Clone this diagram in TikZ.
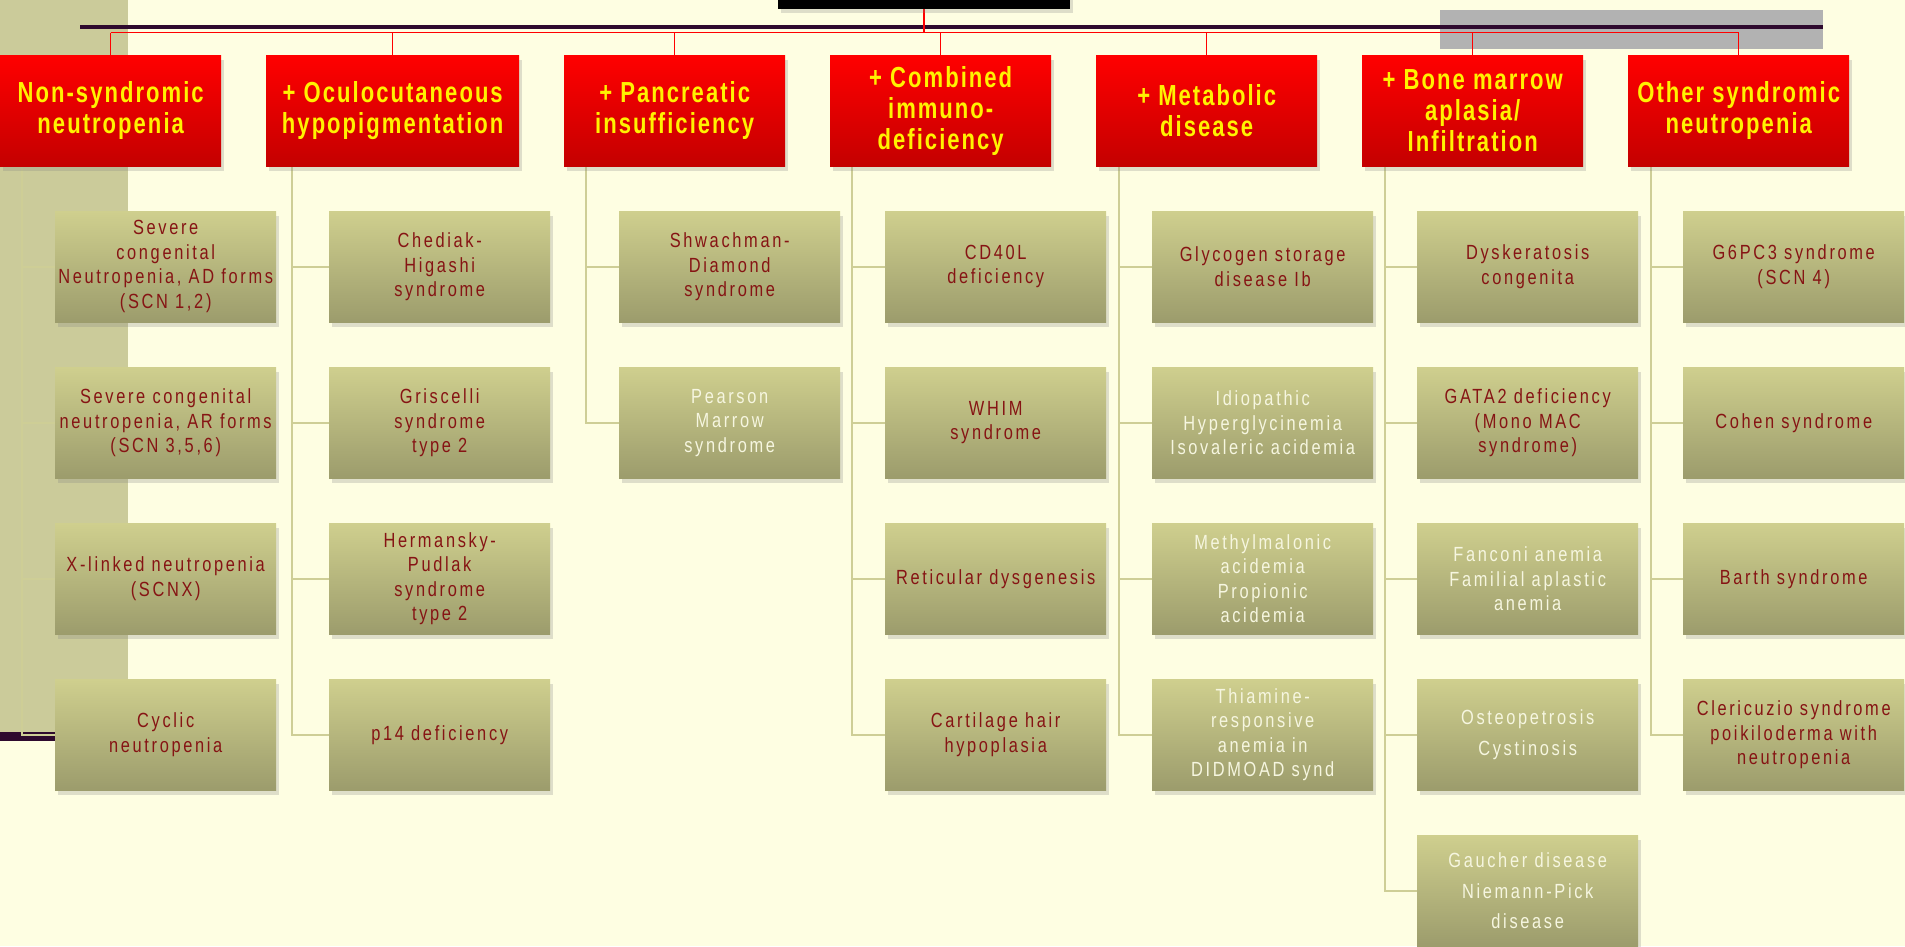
\documentclass[tikz,border=0pt]{standalone}
\usepackage{fontspec}
\setmainfont{Liberation Sans}
\newfontfamily\headfont{Liberation Sans}[FakeStretch=0.76,LetterSpace=7]
\newfontfamily\cellfont{Liberation Sans}[FakeStretch=0.8,LetterSpace=13]
\usepackage{xcolor}
\usepackage{tikz}
\usetikzlibrary{shadows}
\usetikzlibrary{backgrounds}

\definecolor{cream}{HTML}{FEFEE2}
\definecolor{sidebar}{HTML}{CBCB9A}
\definecolor{plum}{HTML}{2E0A2E}
\definecolor{khaki}{HTML}{CECE96}
\definecolor{boxtop}{HTML}{CFCF8E}
\definecolor{boxbot}{HTML}{9C9C6C}
\definecolor{rust}{HTML}{861414}
\definecolor{pale}{HTML}{F6F6E0}
\definecolor{headbot}{HTML}{C40000}

\tikzset{
  head/.style={anchor=north west, minimum width=221pt, minimum height=111pt,
    inner sep=0pt, top color=red, bottom color=headbot, text=yellow,
    align=center, font=\headfont\bfseries\fontsize{29}{31}\selectfont,
    drop shadow={shadow xshift=3pt, shadow yshift=-5pt, opacity=0.25}},
  cell/.style={anchor=north west, minimum width=221pt, minimum height=111pt,
    inner sep=0pt, top color=boxtop, bottom color=boxbot, text=rust,
    align=center, font=\cellfont\fontsize{20.5}{24.5}\selectfont,
    drop shadow={shadow xshift=3pt, shadow yshift=-5pt, opacity=0.25}},
  faded/.style={text=pale},
  link/.style={draw=khaki, line width=2.3pt},
  redline/.style={draw=red, line width=1.4pt}
}

\begin{document}
\begin{tikzpicture}[x=1pt, y=-1pt]

\useasboundingbox (0,0) rectangle (1905,946);
\clip (0,0) rectangle (1905,946);

% Title box (cut off at the top)
\node[anchor=south west, minimum width=292pt, minimum height=60pt, fill=black,
  drop shadow={shadow xshift=3pt, shadow yshift=-4pt, opacity=0.25}] (T) at (778,9) {};

% Headers
\node[head] (H1) at (0,55) {Non-syndromic\\neutropenia};
\node[head, minimum width=253pt] (H2) at (266,55) {+ Oculocutaneous\\hypopigmentation};
\node[head] (H3) at (564,55) {+ Pancreatic\\insufficiency};
\node[head] (H4) at (830,55) {+ Combined\\immuno-\\deficiency};
\node[head] (H5) at (1096,55) {+ Metabolic\\disease};
\node[head] (H6) at (1362,55) {+ Bone marrow\\aplasia/\\Infiltration};
\node[head] (H7) at (1628,55) {Other syndromic\\neutropenia};

% Non-syndromic
\node[cell] (A1) at (55,211) {Severe\\congenital\\Neutropenia, AD forms\\(SCN 1,2)};
\node[cell] (A2) at (55,367) {Severe congenital\\neutropenia, AR forms\\(SCN 3,5,6)};
\node[cell] (A3) at (55,523) {X-linked neutropenia\\(SCNX)};
\node[cell] (A4) at (55,679) {Cyclic\\neutropenia};

% Oculocutaneous hypopigmentation
\node[cell] (B1) at (329,211) {Chediak-\\Higashi\\syndrome};
\node[cell] (B2) at (329,367) {Griscelli\\syndrome\\type 2};
\node[cell] (B3) at (329,523) {Hermansky-\\Pudlak\\syndrome\\type 2};
\node[cell] (B4) at (329,679) {p14 deficiency};

% Pancreatic insufficiency
\node[cell] (C1) at (619,211) {Shwachman-\\Diamond\\syndrome};
\node[cell, faded] (C2) at (619,367) {Pearson\\Marrow\\syndrome};

% Combined immunodeficiency
\node[cell] (D1) at (885,211) {CD40L\\deficiency};
\node[cell] (D2) at (885,367) {WHIM\\syndrome};
\node[cell] (D3) at (885,523) {Reticular dysgenesis};
\node[cell] (D4) at (885,679) {Cartilage hair\\hypoplasia};

% Metabolic disease
\node[cell] (E1) at (1152,211) {Glycogen storage\\disease Ib};
\node[cell, faded] (E2) at (1152,367) {Idiopathic\\Hyperglycinemia\\Isovaleric acidemia};
\node[cell, faded] (E3) at (1152,523) {Methylmalonic\\acidemia\\Propionic\\acidemia};
\node[cell, faded] (E4) at (1152,679) {Thiamine-\\responsive\\anemia in\\DIDMOAD synd};

% Bone marrow aplasia / infiltration
\node[cell] (F1) at (1417,211) {Dyskeratosis\\congenita};
\node[cell] (F2) at (1417,367) {GATA2 deficiency\\(Mono MAC\\syndrome)};
\node[cell, faded] (F3) at (1417,523) {Fanconi anemia\\Familial aplastic\\anemia};
\node[cell, faded] (F4) at (1417,679) {Osteopetrosis\\[6pt]Cystinosis};
\node[cell, faded] (F5) at (1417,835) {Gaucher disease\\[6pt]Niemann-Pick\\[6pt]disease};

% Other syndromic
\node[cell] (G1) at (1683,211) {G6PC3 syndrome\\(SCN 4)};
\node[cell] (G2) at (1683,367) {Cohen syndrome};
\node[cell] (G3) at (1683,523) {Barth syndrome};
\node[cell] (G4) at (1683,679) {Clericuzio syndrome\\poikiloderma with\\neutropenia};

\begin{scope}[on background layer]
% slide background
\fill[cream] (0,0) rectangle (1905,946);
\fill[sidebar] (0,0) rectangle (128,732);
\fill[plum] (0,732) rectangle (60,741);
\fill[gray!60] (1440,10) rectangle (1823,49);
\fill[plum] (80,24.5) rectangle (1823,28.5);

% red bus from the title to the headers
\coordinate (bus) at (0,32.5);
\draw[redline, line width=2.2pt] (T.south) -- (T.south |- bus);
\draw[redline] (H1.north |- bus) -- (H7.north |- bus);
\draw[redline] (H1.north |- bus) -- (H1.north);
\draw[redline] (H2.north |- bus) -- (H2.north);
\draw[redline] (H3.north |- bus) -- (H3.north);
\draw[redline] (H4.north |- bus) -- (H4.north);
\draw[redline] (H5.north |- bus) -- (H5.north);
\draw[redline] (H6.north |- bus) -- (H6.north);
\draw[redline] (H7.north |- bus) -- (H7.north);

% spines under each header
\coordinate (SA) at ([xshift=22pt]H1.south west);
\coordinate (SB) at ([xshift=26pt]H2.south west);
\coordinate (SC) at ([xshift=22pt]H3.south west);
\coordinate (SD) at ([xshift=22pt]H4.south west);
\coordinate (SE) at ([xshift=23pt]H5.south west);
\coordinate (SF) at ([xshift=23pt]H6.south west);
\coordinate (SG) at ([xshift=23pt]H7.south west);

\draw[link] (SA) |- (A1.west);
\draw[link] (SA) |- (A2.west);
\draw[link] (SA) |- (A3.west);
\draw[link] (SA) |- (A4.west);

\draw[link] (SB) |- (B1.west);
\draw[link] (SB) |- (B2.west);
\draw[link] (SB) |- (B3.west);
\draw[link] (SB) |- (B4.west);

\draw[link] (SC) |- (C1.west);
\draw[link] (SC) |- (C2.west);

\draw[link] (SD) |- (D1.west);
\draw[link] (SD) |- (D2.west);
\draw[link] (SD) |- (D3.west);
\draw[link] (SD) |- (D4.west);

\draw[link] (SE) |- (E1.west);
\draw[link] (SE) |- (E2.west);
\draw[link] (SE) |- (E3.west);
\draw[link] (SE) |- (E4.west);

\draw[link] (SF) |- (F1.west);
\draw[link] (SF) |- (F2.west);
\draw[link] (SF) |- (F3.west);
\draw[link] (SF) |- (F4.west);
\draw[link] (SF) |- (F5.west);

\draw[link] (SG) |- (G1.west);
\draw[link] (SG) |- (G2.west);
\draw[link] (SG) |- (G3.west);
\draw[link] (SG) |- (G4.west);
\end{scope}

\end{tikzpicture}
\end{document}
